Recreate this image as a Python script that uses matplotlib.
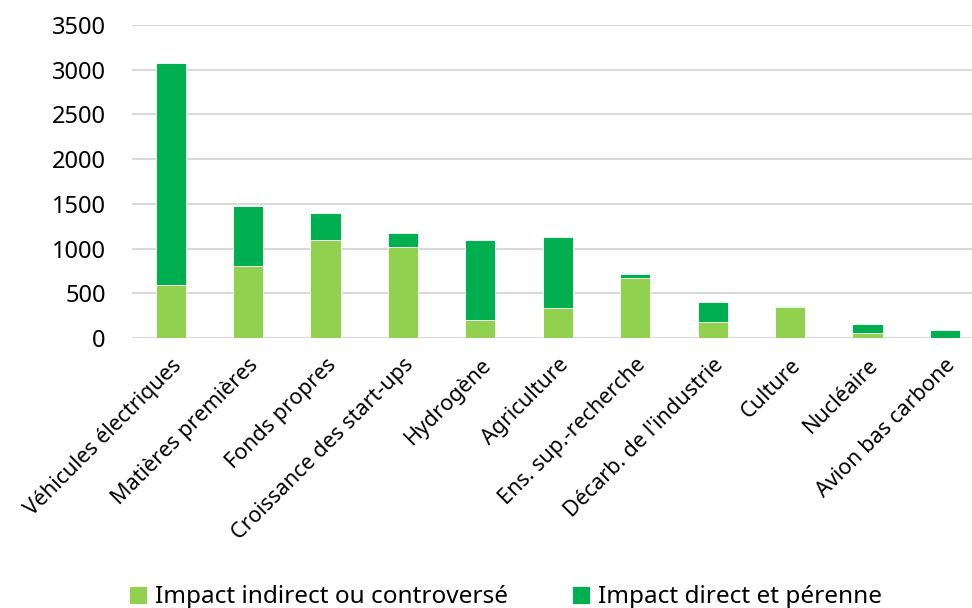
import matplotlib.pyplot as plt
import numpy as np

# valeurs
categories = ['Véhicules électriques', 'Matières premières', 'Fonds propres',
              'Croissance des start-ups', 'Hydrogène', 'Agriculture',
              'Ens. sup.-recherche', "Décarb. de l'industrie", 'Culture',
              'Nucléaire', 'Avion bas carbone']
indirect = [590, 810, 1100, 1015, 200, 340, 670, 175, 345, 58, 0]
direct = [2490, 665, 295, 160, 895, 790, 45, 222, 15, 96, 95]

vert_clair = '#92d050'
vert_fonce = '#00b050'

plt.rcParams['font.family'] = ['Noto Sans', 'DejaVu Sans']

fig = plt.figure(figsize=(9.72, 6.08), dpi=100)
ax = fig.add_axes([132 / 972, 1 - 338 / 608, 1 - 132 / 972, 313 / 608])

x = np.arange(len(categories))
largeur = 0.39
ax.bar(x, indirect, largeur, color=vert_clair, edgecolor='white', linewidth=0.6,
       label='Impact indirect ou controversé', zorder=3)
ax.bar(x, direct, largeur, bottom=indirect, color=vert_fonce, edgecolor='white',
       linewidth=0.6, label='Impact direct et pérenne', zorder=3)

ax.set_ylim(0, 3500)
ax.set_xlim(-0.5, 10.35)
ax.set_yticks(np.arange(0, 3501, 500))
ax.yaxis.grid(True, color='#d9d9d9', linewidth=1.5, zorder=0)
for s in ax.spines.values():
    s.set_visible(False)
ax.tick_params(axis='y', length=0, labelsize=17, colors='black', pad=19)
ax.set_xticks(x)
ax.set_xticklabels(categories, rotation=45, ha='right', rotation_mode='anchor')
ax.tick_params(axis='x', length=0, labelsize=15.5, colors='black', pad=12)

fig.legend(loc='lower center', bbox_to_anchor=(0.52, -0.038), ncol=2, frameon=False,
           handlelength=0.75, handleheight=0.75, handletextpad=0.35,
           columnspacing=2.6, prop={'family': ['Noto Sans'], 'size': 17.5})

fig.savefig('out.png', dpi=100)
